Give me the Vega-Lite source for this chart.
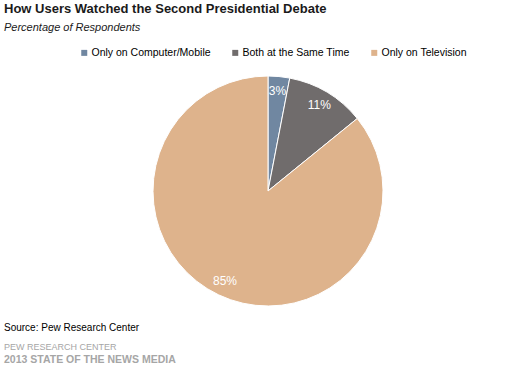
{
  "$schema": "https://vega.github.io/schema/vega-lite/v6.json",
  "padding": {"left": 4, "top": 2, "right": 0, "bottom": 6},
  "background": "white",
  "config": {
    "view": {"stroke": null},
    "font": "Liberation Sans",
    "title": {"anchor": "start", "frame": "group"}
  },
  "title": {
    "text": "2013 STATE OF THE NEWS MEDIA",
    "orient": "bottom", "anchor": "start", "dx": -24, "offset": 3,
    "fontSize": 10.5, "fontWeight": "bold", "color": "#a6a6a6", "font": "Liberation Sans"
  },
  "vconcat": [
    {
      "title": {
        "text": "Source: Pew Research Center",
        "subtitle": "PEW RESEARCH CENTER",
        "orient": "bottom", "anchor": "start", "dx": -24, "offset": 5,
        "fontSize": 10, "fontWeight": "normal", "color": "#000000", "font": "Liberation Sans",
        "subtitleFontSize": 9, "subtitleColor": "#a6a6a6", "subtitlePadding": 9.5, "subtitleFont": "Liberation Sans"
      },
      "vconcat": [
        {
          "title": {
            "text": "How Users Watched the Second Presidential Debate",
            "subtitle": "Percentage of Respondents",
            "anchor": "start", "dx": -24, "offset": 31.5,
            "fontSize": 13, "fontWeight": "bold", "color": "#1a1a1a", "font": "Liberation Sans",
            "subtitleFontSize": 11, "subtitleFontStyle": "italic", "subtitleColor": "#1a1a1a",
            "subtitlePadding": 6, "subtitleFont": "Liberation Sans"
          },
          "width": 480,
          "height": 254,
          "data": {
            "values": [
              {"method": "Only on Computer/Mobile", "share": 3, "rank": 1, "label": "3%"},
              {"method": "Both at the Same Time", "share": 11, "rank": 2, "label": "11%"},
              {"method": "Only on Television", "share": 85, "rank": 3, "label": "85%"}
            ]
          },
          "layer": [
            {
              "mark": {"type": "arc", "radius": 115, "stroke": "white", "strokeWidth": 1},
              "encoding": {
                "theta": {"field": "share", "type": "quantitative", "stack": true},
                "order": {"field": "rank", "type": "quantitative"},
                "color": {
                  "field": "method", "type": "nominal",
                  "scale": {
                    "domain": ["Only on Computer/Mobile", "Both at the Same Time", "Only on Television"],
                    "range": ["#7087a1", "#706c6c", "#deb38c"]
                  },
                  "legend": {
                    "orient": "none", "legendX": 51, "legendY": -16.5,
                    "direction": "horizontal", "title": null,
                    "symbolType": "square", "symbolSize": 36, "symbolStrokeWidth": 0,
                    "labelFontSize": 10.5, "labelOffset": 2, "columnPadding": 19,
                    "padding": 0, "labelColor": "#000000", "labelFont": "Liberation Sans"
                  }
                }
              }
            },
            {
              "mark": {"type": "text", "radius": 100, "color": "white", "fontSize": 12, "font": "Liberation Sans"},
              "encoding": {
                "theta": {"field": "share", "type": "quantitative", "stack": true},
                "order": {"field": "rank", "type": "quantitative"},
                "text": {"field": "label", "type": "nominal"},
                "fontWeight": {"condition": {"test": "datum.share < 50", "value": "bold"}, "value": "normal"}
              }
            }
          ]
        }
      ]
    }
  ]
}
